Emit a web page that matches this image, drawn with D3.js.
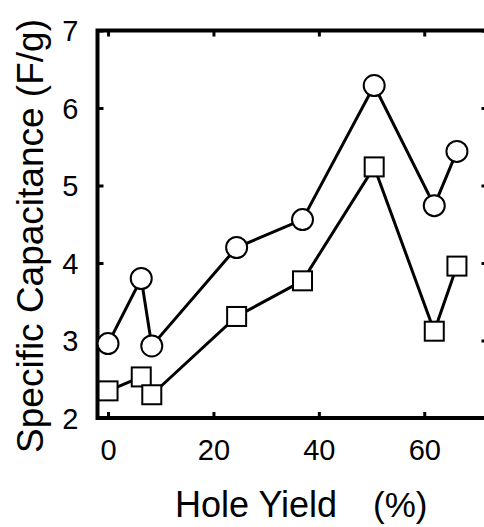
<!DOCTYPE html>
<html>
<head>
<meta charset="utf-8">
<script src="https://cdn.jsdelivr.net/npm/d3@7"></script>
<style>
  html, body { margin: 0; padding: 0; background: #fff; }
  text { font-family: "Liberation Sans", Arial, sans-serif; fill: #000; }
</style>
</head>
<body>
<div id="chart"></div>
<script>
// valores
const holeYield = [0, 6.3, 8.3, 24.4, 36.9, 50.5, 61.9, 66.2];
const circleSeries = [2.96, 3.80, 2.93, 4.20, 4.56, 6.29, 4.74, 5.44];
const squareSeries = [2.35, 2.53, 2.30, 3.31, 3.77, 5.24, 3.12, 3.96];
const xTicks = [0, 20, 40, 60];
const yTicks = [2, 3, 4, 5, 6, 7];

const width = 484, height = 527;

const svg = d3.select("#chart")
    .append("svg")
    .attr("width", width)
    .attr("height", height);

const x = d3.scaleLinear().domain([-2, 72]).range([97.5, 487.5]);
const y = d3.scaleLinear().domain([2, 7]).range([418, 30.5]);

// eixos com marcas para dentro
const axisStyle = g => {
    g.select(".domain").remove();
    g.selectAll(".tick line").attr("stroke", "#000").attr("stroke-width", 3);
};

svg.append("g")
    .attr("transform", `translate(0,${y(2)})`)
    .call(d3.axisBottom(x).tickValues(xTicks).tickSizeInner(-6).tickPadding(21))
    .call(axisStyle)
    .call(g => g.selectAll(".tick text").style("font-size", "29px"));

svg.append("g")
    .attr("transform", `translate(0,${y(7)})`)
    .call(d3.axisTop(x).tickValues(xTicks).tickSizeInner(-6).tickFormat(""))
    .call(axisStyle);

svg.append("g")
    .attr("transform", `translate(${x(-2)},0)`)
    .call(d3.axisLeft(y).tickValues(yTicks).tickFormat(d3.format("d")).tickSizeInner(-6).tickPadding(19))
    .call(axisStyle)
    .call(g => g.selectAll(".tick text").style("font-size", "29px").attr("dy", "0.35em"));

svg.append("g")
    .attr("transform", `translate(${x(72)},0)`)
    .call(d3.axisRight(y).tickValues(yTicks).tickSizeInner(-6).tickFormat(""))
    .call(axisStyle);

// moldura
svg.append("rect")
    .attr("x", x(-2))
    .attr("y", y(7))
    .attr("width", x(72) - x(-2))
    .attr("height", y(2) - y(7))
    .attr("fill", "none")
    .attr("stroke", "#000")
    .attr("stroke-width", 4);

const line = d3.line()
    .x((d, i) => x(holeYield[i]))
    .y(d => y(d));

[circleSeries, squareSeries].forEach(s => {
    svg.append("path")
        .datum(s)
        .attr("d", line)
        .attr("fill", "none")
        .attr("stroke", "#000")
        .attr("stroke-width", 3);
});

svg.append("g")
    .selectAll("circle")
    .data(circleSeries)
    .join("circle")
    .attr("cx", (d, i) => x(holeYield[i]))
    .attr("cy", d => y(d))
    .attr("r", 10.5)
    .attr("fill", "#fff")
    .attr("stroke", "#000")
    .attr("stroke-width", 2);

const sq = 19;
svg.append("g")
    .selectAll("rect")
    .data(squareSeries)
    .join("rect")
    .attr("x", (d, i) => x(holeYield[i]) - sq / 2)
    .attr("y", d => y(d) - sq / 2)
    .attr("width", sq)
    .attr("height", sq)
    .attr("fill", "#fff")
    .attr("stroke", "#000")
    .attr("stroke-width", 2);

// títulos dos eixos
svg.append("text")
    .attr("x", 175)
    .attr("y", 517)
    .style("font-size", "36px")
    .text("Hole Yield");

svg.append("text")
    .attr("x", 373)
    .attr("y", 517)
    .style("font-size", "35px")
    .text("(%)");

svg.append("text")
    .attr("transform", "translate(43,236) rotate(-90)")
    .attr("text-anchor", "middle")
    .style("font-size", "37px")
    .text("Specific Capacitance (F/g)");
</script>
</body>
</html>
